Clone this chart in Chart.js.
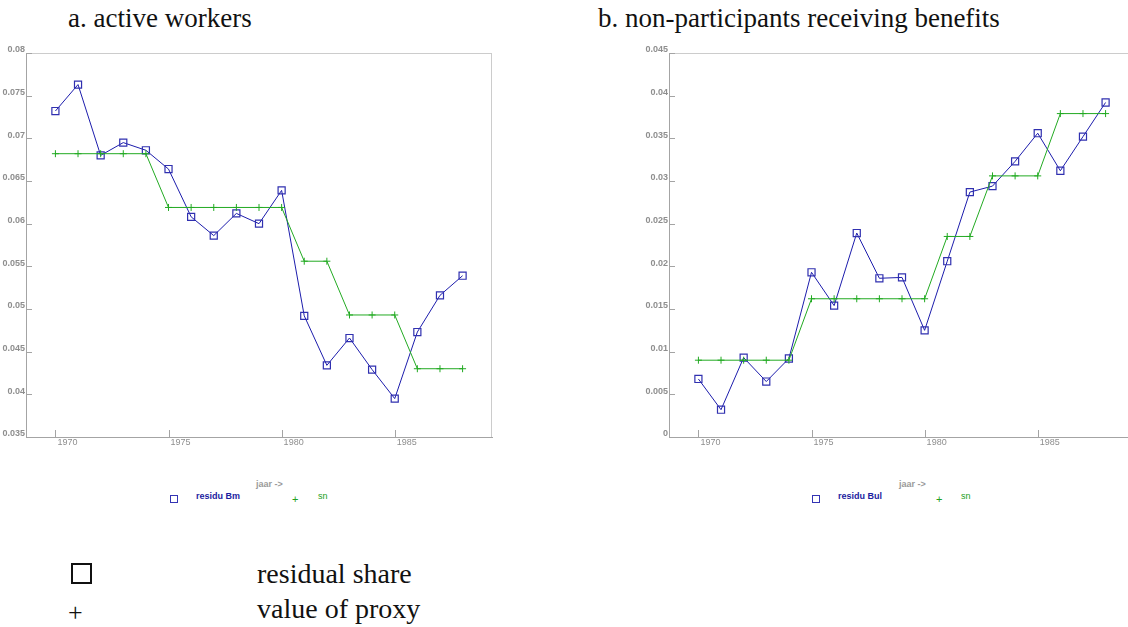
<!DOCTYPE html>
<html>
<head>
<meta charset="utf-8">
<script src="https://cdn.jsdelivr.net/npm/chart.js@4"></script>
<style>
  body { margin: 0; width: 1128px; height: 627px; overflow: hidden; background: #fff; position: relative; font-family: "Liberation Sans", Arial, sans-serif; }
  canvas { position: absolute; top: 0; }
  .ttl { position: absolute; font-family: "Liberation Serif", serif; font-size: 27px; line-height: 1; color: #111; white-space: nowrap; }
  .lab { position: absolute; font-size: 9px; line-height: 1; font-weight: bold; white-space: nowrap; }
  .axt { color: #9a9a9a; }
  .blue { color: #1c1ca0; }
  .green { color: #22a022; font-weight: normal; }
  .sq { position: absolute; width: 6px; height: 6px; border: 1px solid #3434b4; }
  .bigsq { position: absolute; width: 17px; height: 17px; border: 2px solid #111; }
</style>
</head>
<body>
<div class="ttl" style="left:68px; top:5px;">a. active workers</div>
<div class="ttl" style="left:598px; top:5px;">b. non-participants receiving benefits</div>

<canvas id="chartA" width="560" height="460" style="left:0px;"></canvas>
<canvas id="chartB" width="560" height="460" style="left:643px;"></canvas>

<div class="lab axt" style="left:256px; top:480px;">jaar -&gt;</div>
<div class="sq" style="left:170px; top:495px;"></div>
<div class="lab blue" style="left:196px; top:492px;">residu Bm</div>
<div class="lab green" style="left:292px; top:494px; font-size:11px;">+</div>
<div class="lab green" style="left:318px; top:492px;">sn</div>

<div class="lab axt" style="left:899px; top:480px;">jaar -&gt;</div>
<div class="sq" style="left:812px; top:495px;"></div>
<div class="lab blue" style="left:838px; top:492px;">residu Bul</div>
<div class="lab green" style="left:936px; top:494px; font-size:11px;">+</div>
<div class="lab green" style="left:961px; top:492px;">sn</div>

<div class="bigsq" style="left:71px; top:563px;"></div>
<div class="ttl" style="left:68px; top:600px; font-size:26px;">+</div>
<div class="ttl" style="left:257px; top:560px; font-size:28px;">residual share</div>
<div class="ttl" style="left:257px; top:595px; font-size:28px;">value of proxy</div>

<script>
const years = [1970, 1971, 1972, 1973, 1974, 1975, 1976, 1977, 1978, 1979,
               1980, 1981, 1982, 1983, 1984, 1985, 1986, 1987, 1988];
const xTicks = [1970, 1975, 1980, 1985];

// a. active workers
const residuBm = [0.0732, 0.0763, 0.0680, 0.0695, 0.0686, 0.0664, 0.0608, 0.0586, 0.0612, 0.0600,
                  0.0639, 0.0492, 0.0434, 0.0466, 0.0429, 0.0395, 0.0473, 0.0516, 0.0539];
const snActive = [0.0682, 0.0682, 0.0682, 0.0682, 0.0682, 0.0619, 0.0619, 0.0619, 0.0619, 0.0619,
                  0.0619, 0.0556, 0.0556, 0.0493, 0.0493, 0.0493, 0.0430, 0.0430, 0.0430];

// b. non-participants receiving benefits
const residuBul = [0.0068, 0.0032, 0.0093, 0.0065, 0.0092, 0.0193, 0.0154, 0.0239, 0.0186, 0.0187,
                   0.0125, 0.0206, 0.0287, 0.0294, 0.0323, 0.0356, 0.0312, 0.0352, 0.0392];
const snBenefit = [0.0090, 0.0090, 0.0090, 0.0090, 0.0090, 0.0162, 0.0162, 0.0162, 0.0162, 0.0162,
                   0.0162, 0.0235, 0.0235, 0.0306, 0.0306, 0.0306, 0.0379, 0.0379, 0.0379];

const BLUE = '#1c1cac';
const GREEN = '#22aa22';
const AXIS = '#a4a4a4';
const TICKTXT = '#8e8e8e';

// top/right frame and the short inward tick marks
const frameTicks = {
  id: 'frameTicks',
  beforeDatasetsDraw(chart) {
    const { ctx, chartArea: a, scales: { x, y } } = chart;
    ctx.save();
    ctx.lineWidth = 1;
    ctx.strokeStyle = '#cccccc';
    ctx.beginPath();
    ctx.moveTo(a.left, a.top + 0.5);
    ctx.lineTo(a.right, a.top + 0.5);
    ctx.moveTo(a.right - 0.5, a.top);
    ctx.lineTo(a.right - 0.5, a.bottom);
    ctx.stroke();
    ctx.strokeStyle = AXIS;
    ctx.beginPath();
    x.ticks.forEach(t => {
      const px = Math.round(x.getPixelForValue(t.value)) + 0.5;
      ctx.moveTo(px, a.bottom);
      ctx.lineTo(px, a.bottom - 7);
    });
    y.ticks.forEach(t => {
      const py = Math.round(y.getPixelForValue(t.value)) + 0.5;
      ctx.moveTo(a.left, py);
      ctx.lineTo(a.left + 6, py);
    });
    ctx.stroke();
    ctx.restore();
  }
};

function pairs(vals) {
  return years.map((yr, i) => ({ x: yr, y: vals[i] }));
}

function makeChart(id, residu, proxy, yMin, yMax) {
  const ctx = document.getElementById(id).getContext('2d');
  return new Chart(ctx, {
    type: 'line',
    data: {
      datasets: [
        {
          data: pairs(proxy),
          borderColor: GREEN,
          borderWidth: 1,
          pointStyle: 'cross',
          pointRadius: 3.5,
          pointBorderColor: GREEN,
          pointBorderWidth: 1,
          tension: 0,
        },
        {
          data: pairs(residu),
          borderColor: BLUE,
          borderWidth: 1,
          pointStyle: 'rect',
          pointRadius: 5,
          pointBackgroundColor: 'rgba(0,0,0,0)',
          pointBorderColor: '#3030b0',
          pointBorderWidth: 1.2,
          tension: 0,
        },
      ],
    },
    options: {
      responsive: false,
      animation: false,
      layout: { padding: { top: 53, right: 68, left: 0, bottom: 0 } },
      plugins: { legend: { display: false }, tooltip: { enabled: false } },
      scales: {
        x: {
          type: 'linear',
          min: 1968.7,
          max: 1989.3,
          afterBuildTicks: s => { s.ticks = xTicks.map(v => ({ value: v })); },
          afterFit: s => { s.height = 23; },
          grid: { display: false, drawTicks: false },
          border: { color: AXIS, width: 1 },
          ticks: {
            align: 'start',
            maxRotation: 0,
            padding: 0,
            labelOffset: 2,
            color: TICKTXT,
            font: { family: 'Liberation Sans', size: 9 },
            callback: v => String(v),
          },
        },
        y: {
          min: yMin,
          max: yMax,
          afterFit: s => { s.width = 26; },
          grid: { display: false, drawTicks: false },
          border: { color: AXIS, width: 1 },
          ticks: {
            stepSize: 0.005,
            padding: 1,
            labelOffset: -3,
            color: TICKTXT,
            font: { family: 'Liberation Sans', size: 9, weight: 'bold' },
            callback: v => String(+v.toFixed(3)),
          },
        },
      },
    },
    plugins: [frameTicks],
  });
}

document.addEventListener('DOMContentLoaded', () => {
  makeChart('chartA', residuBm, snActive, 0.035, 0.08);
  makeChart('chartB', residuBul, snBenefit, 0, 0.045);
});
</script>
</body>
</html>
